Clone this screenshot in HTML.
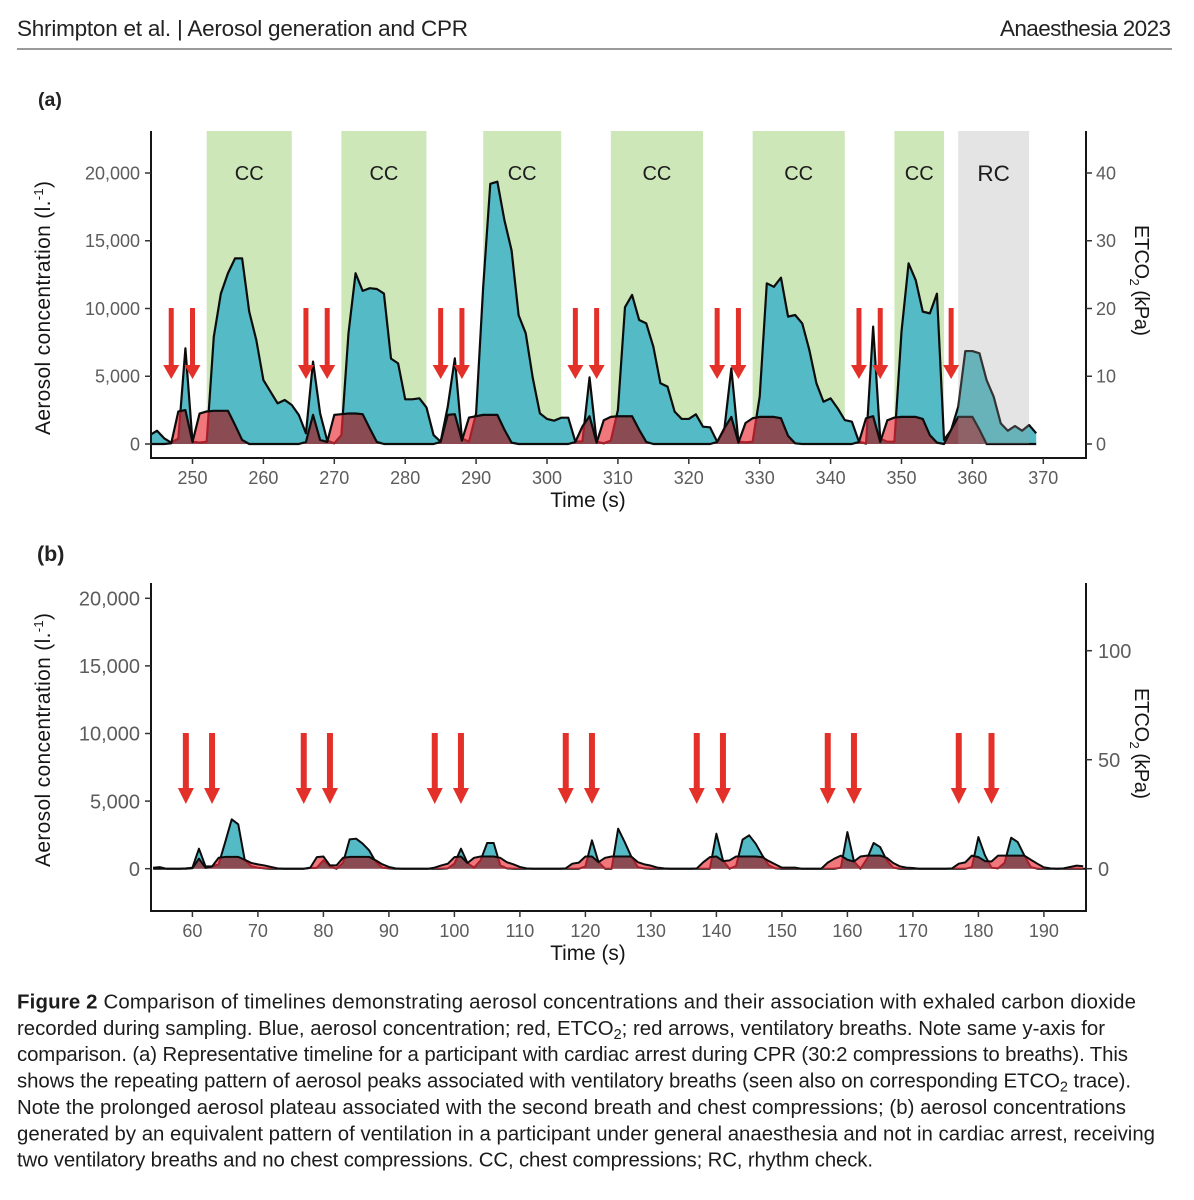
<!DOCTYPE html>
<html lang="en">
<head>
<meta charset="utf-8">
<title>Figure 2 - Aerosol generation and CPR</title>
<style>
html,body{margin:0;padding:0;background:#fff;width:1194px;height:1200px;overflow:hidden}
svg{display:block;font-family:"Liberation Sans",sans-serif}
.cap{font-size:20.4px;fill:#1c1c1c}
.tick{fill:#5c5c5c}
.ttl{fill:#151515}
</style>
</head>
<body>
<svg id="fig" xmlns="http://www.w3.org/2000/svg" width="1194" height="1200" viewBox="0 0 1194 1200">
  <rect width="1194" height="1200" fill="#fff"/>
  <text x="17" y="36" font-size="22.5" fill="#222" textLength="451" lengthAdjust="spacing">Shrimpton et al.  |  Aerosol generation and CPR</text>
  <text x="1000" y="36" font-size="22.5" fill="#222" textLength="171" lengthAdjust="spacing">Anaesthesia 2023</text>
  <rect x="17" y="48" width="1155" height="2" fill="#9a9a9a"/>
  <text x="38" y="106" font-size="19.5" font-weight="bold" fill="#222">(a)</text>
  <text x="37" y="561" font-size="21.5" font-weight="bold" fill="#222">(b)</text>

  <g id="panelA"></g>
  <g id="panelB"></g>

  <text class="ttl" x="588" y="507" font-size="20.8" text-anchor="middle">Time (s)</text>
  <text class="ttl" x="588" y="960" font-size="20.8" text-anchor="middle">Time (s)</text>
  <text class="ttl" transform="translate(50,435) rotate(-90)" font-size="21" textLength="254" lengthAdjust="spacing">Aerosol concentration (l.<tspan dy="-7" font-size="13">-1</tspan><tspan dy="7">)</tspan></text>
  <text class="ttl" transform="translate(50,867) rotate(-90)" font-size="21" textLength="254" lengthAdjust="spacing">Aerosol concentration (l.<tspan dy="-7" font-size="13">-1</tspan><tspan dy="7">)</tspan></text>
  <text class="ttl" transform="translate(1135,225) rotate(90)" font-size="20" textLength="111" lengthAdjust="spacing">ETCO<tspan dy="5" font-size="13">2</tspan><tspan dy="-5"> (kPa)</tspan></text>
  <text class="ttl" transform="translate(1135,688) rotate(90)" font-size="20" textLength="111" lengthAdjust="spacing">ETCO<tspan dy="5" font-size="13">2</tspan><tspan dy="-5"> (kPa)</tspan></text>

  <g>
    <text class="cap" x="17" y="1008.5" textLength="1119" lengthAdjust="spacing"><tspan font-weight="bold">Figure  2</tspan>  Comparison of timelines demonstrating aerosol concentrations and their association with exhaled carbon dioxide</text>
    <text class="cap" x="17" y="1035" textLength="1088" lengthAdjust="spacing">recorded during sampling. Blue, aerosol concentration; red, ETCO<tspan dy="4" font-size="14.5">2</tspan><tspan dy="-4">; red arrows, ventilatory breaths. Note same y-axis for</tspan></text>
    <text class="cap" x="17" y="1061" textLength="1111" lengthAdjust="spacing">comparison. (a) Representative timeline for a participant with cardiac arrest during CPR (30:2 compressions to breaths). This</text>
    <text class="cap" x="17" y="1087.5" textLength="1114" lengthAdjust="spacing">shows the repeating pattern of aerosol peaks associated with ventilatory breaths (seen also on corresponding ETCO<tspan dy="4" font-size="14.5">2</tspan><tspan dy="-4"> trace).</tspan></text>
    <text class="cap" x="17" y="1114" textLength="1109" lengthAdjust="spacing">Note the prolonged aerosol plateau associated with the second breath and chest compressions; (b) aerosol concentrations</text>
    <text class="cap" x="17" y="1140.5" textLength="1138" lengthAdjust="spacing">generated by an equivalent pattern of ventilation in a participant under general anaesthesia and not in cardiac arrest, receiving</text>
    <text class="cap" x="17" y="1166.5" textLength="856" lengthAdjust="spacing">two ventilatory breaths and no chest compressions. CC, chest compressions; RC, rhythm check.</text>
  </g>
</svg>

<script>
// ---------- Panel (a) data ----------
const firstSecondA = 244;
const aerosolA = [660,980,420,100,400,7060,170,100,170,7900,11100,12600,13700,13700,9770,7670,4720,3860,3000,3250,2880,2140,790,6080,2260,250,50,660,8170,12600,11300,11500,11440,11100,6300,5950,3300,3300,3370,2700,660,170,2750,6320,420,170,2260,11600,19200,19360,16500,14300,9500,8170,4850,2260,1850,1720,1940,1940,170,200,4920,170,50,250,2500,10100,11000,9150,8900,7180,4480,4230,2390,1850,1850,2190,1280,1230,170,1030,5580,170,120,170,3500,11860,11600,12280,9400,9520,8900,6940,4480,3120,3370,2630,1770,1650,170,30,8660,400,170,170,8290,13330,12100,9770,9640,11100,300,1030,2755,6860,6860,6690,4720,3490,1525,980,1330,980,1400,790];
const etco2A = [0,0,0,0.1,4.8,5,0.3,4.5,4.8,4.9,4.9,4.9,2.8,0.6,0,0,0,0,0,0,0,0,0.3,4.3,0.6,0.3,4.3,4.4,4.5,4.5,4.4,2.3,0.3,0,0,0,0,0,0,0,0,0.3,4.3,4.4,0.5,3.9,4.1,4.3,4.3,4.3,2.1,0.2,0,0,0,0,0,0,0,0,0.3,2.6,4.1,0.2,3.5,4,4.1,4.1,4.1,2.1,0.3,0,0,0,0,0,0,0,0,0,0.3,2.3,4,0.2,3.1,3.8,4,4,4,3.8,1.2,0.1,0,0,0,0,0,0,0,0,0.3,3.8,4.1,0.3,3.5,3.9,4,4,4,3.7,1.3,0.2,0,2.1,4,4,4,2.1,0,0,0,0,0,0,0,0];
const ccStartsA = [252,271,291,309,329,349];
const ccEndsA = [264,283,302,322,342,356];
const rcStartA = 358;
const rcEndA = 368;
const breathsA = [247,250,266,269,285,288,304,307,324,327,344,347,357];
const xTicksA = [250,260,270,280,290,300,310,320,330,340,350,360,370];
const rightTicksA = [0,10,20,30,40];

// ---------- Panel (b) data ----------
const firstSecondB = 54;
const aerosolB = [75,120,0,0,0,20,75,1480,170,170,320,1950,3650,3280,620,170,75,25,0,0,0,0,0,0,50,75,620,170,0,440,2170,2220,1850,1350,490,75,25,0,0,0,0,0,0,0,0,25,370,1480,420,75,620,1900,1900,250,25,0,0,0,0,0,0,0,0,0,0,0,170,2100,490,0,0,2960,1970,900,120,25,0,0,0,0,0,0,0,0,0,0,2590,620,0,200,2150,2470,1850,990,250,25,0,0,0,0,0,0,0,0,0,75,2710,540,0,740,1900,1600,620,75,0,0,0,0,0,0,0,0,0,0,0,120,2340,990,75,25,440,2290,1970,990,120,0,0,0,0,0,0,0,0,0];
const etco2B = [0,0,0,0,0,0,0.2,4.6,0.4,1,5,5.4,5.4,5.4,4.1,2.6,2,1.5,0.8,0.15,0,0,0,0,0.5,5.3,5.6,1.5,1.5,5,5.4,5.4,5.4,5.4,3.8,2,0.8,0.15,0,0,0,0,0,0.5,1.5,2.3,5.3,5.6,2.6,5,5.6,5.6,5.6,5,3,2,0.8,0.15,0,0,0,0,0,0.15,2.3,2.8,5.6,5.6,3,5,5.6,5.6,5.6,5.6,3,2,1.4,0.5,0.15,0,0,0,0,0.1,3,5.3,5.6,3.5,3.8,5.6,5.6,5.6,5.6,5.3,3.5,2,0.5,0.5,0.5,0,0,0,0,2.8,4.6,6,4.1,3.3,5.6,6,6,6,5,2.6,1.1,0.5,0.3,0,0,0,0,0,0.15,2.3,2.9,6,5.3,3.5,3.3,6,6,6,6,6,4.1,2.3,0.6,0.15,0,0.15,0.8,1.4,1.1];
const breathsB = [59,63,77,81,97,101,117,121,137,141,157,161,177,182];
const xTicksB = [60,70,80,90,100,110,120,130,140,150,160,170,180,190];
const rightTicksB = [0,50,100];

// ---------- Shared tick values ----------
const leftTicks = [0,5000,10000,15000,20000];
const leftTickLabels = ['0','5,000','10,000','15,000','20,000'];

const NS = 'http://www.w3.org/2000/svg';
function make(tag, attrs, parent){
  const n = document.createElementNS(NS, tag);
  for (const k in attrs) n.setAttribute(k, attrs[k]);
  parent.appendChild(n);
  return n;
}
function areaPath(values, start, X, Y){
  let d = 'M' + X(start) + ' ' + Y(0);
  values.forEach(function(v,i){ d += 'L' + X(start+i).toFixed(2) + ' ' + Y(v).toFixed(2); });
  return d + 'L' + X(start+values.length-1) + ' ' + Y(0) + 'Z';
}
function linePath(values, start, X, Y){
  let d = '';
  values.forEach(function(v,i){ d += (i?'L':'M') + X(start+i).toFixed(2) + ' ' + Y(v).toFixed(2); });
  return d;
}
function drawPanel(o){
  const g = document.getElementById(o.id);
  const X = o.X, YL = o.YL, YR = o.YR;
  const defs = make('defs', {}, g);
  const clipPlot = make('clipPath', {id:o.id+'-plot'}, defs);
  make('rect', {x:o.left, y:o.top, width:o.right-o.left, height:o.bottom-o.top}, clipPlot);
  const blueD = areaPath(o.aerosol, o.start, X, YL);
  const redD = areaPath(o.etco2, o.start, X, YR);
  const clipBlue = make('clipPath', {id:o.id+'-blue'}, defs);
  make('path', {d:blueD}, clipBlue);
  const clipRed = make('clipPath', {id:o.id+'-red'}, defs);
  make('path', {d:redD}, clipRed);

  // chest compression bands
  o.ccStarts.forEach(function(s,i){
    const r = make('rect', {x:X(s), y:o.top, width:X(o.ccEnds[i])-X(s), height:YL(0)-o.top, fill:'#cde7b9'}, g);
    
    
  });

  const plot = make('g', {'clip-path':'url(#'+o.id+'-plot)'}, g);
  
  

  const blue = make('path', {d:blueD, fill:'#54bac5', stroke:'none'}, plot);
  
  
  const blueLine = make('path', {d:linePath(o.aerosol,o.start,X,YL), fill:'none', stroke:'#0c0c0c', 'stroke-width':o.sw, 'stroke-linejoin':'round'}, plot);
  
  

  const red = make('path', {d:redD, fill:'#f0777b', stroke:'none'}, plot);
  
  
  const overlapWrap = make('g', {'clip-path':'url(#'+o.id+'-blue)'}, plot);
  
  
  const overlap = make('path', {d:redD, fill:'#8a4b53', stroke:'none'}, overlapWrap);
  
  
  const underWrap = make('g', {'clip-path':'url(#'+o.id+'-red)'}, plot);
  
  
  const under = make('path', {d:linePath(o.aerosol,o.start,X,YL), fill:'none', stroke:'#a81f2c', 'stroke-width':o.sw, 'stroke-linejoin':'round'}, underWrap);
  
  
  const redLine = make('path', {d:linePath(o.etco2,o.start,X,YR), fill:'none', stroke:'#0c0c0c', 'stroke-width':o.sw, 'stroke-linejoin':'round'}, plot);
  
  

  // rhythm check band overlays the traces
  if (o.rcStart !== undefined){
    const rc = make('rect', {x:X(o.rcStart), y:o.top, width:X(o.rcEnd)-X(o.rcStart), height:YL(0)-o.top, fill:'rgb(158,158,158)', 'fill-opacity':0.28}, g);
    
    
    const rcText = make('text', {x:(X(o.rcStart)+X(o.rcEnd))/2, y:181, 'font-size':22.5, 'text-anchor':'middle', fill:'#1c1c1c'}, g);
    rcText.textContent = 'RC';
    
    
  }
  o.ccStarts.forEach(function(s,i){
    const t = make('text', {x:(X(s)+X(o.ccEnds[i]))/2, y:180, 'font-size':20, 'text-anchor':'middle', fill:'#1c1c1c'}, g);
    t.textContent = 'CC';
    
    
  });

  // breath arrows
  o.breaths.forEach(function(b){
    const x = X(b);
    const w = o.shaft/2;
    const pts = [[x-w,o.arrowTop],[x+w,o.arrowTop],[x+w,o.arrowNeck],[x+8,o.arrowNeck],[x,o.arrowTip],[x-8,o.arrowNeck],[x-w,o.arrowNeck]];
    const a = make('polygon', {points:pts.map(function(p){return p.join(',');}).join(' '), fill:'#e3312a'}, g);
    
    
  });

  // axes
  const axisColor = '#161616';
  const bottomAxis = make('line', {x1:o.left-1, x2:o.right+1, y1:o.bottom, y2:o.bottom, stroke:axisColor, 'stroke-width':2}, g);
  
  
  const leftAxis = make('line', {x1:o.left, x2:o.left, y1:o.top, y2:o.bottom, stroke:axisColor, 'stroke-width':2}, g);
  
  
  const rightAxis = make('line', {x1:o.right, x2:o.right, y1:o.top, y2:o.bottom, stroke:axisColor, 'stroke-width':2}, g);
  
  

  o.xTicks.forEach(function(t){
    const m = make('line', {x1:X(t), x2:X(t), y1:o.bottom, y2:o.bottom+6, stroke:'#333', 'stroke-width':1.5}, g);
    
    
    const l = make('text', {x:X(t), y:o.bottom+26, 'font-size':18, 'text-anchor':'middle', class:'tick'}, g);
    l.textContent = String(t);
    
    
  });
  leftTicks.forEach(function(t,i){
    const m = make('line', {x1:o.left-6, x2:o.left, y1:YL(t), y2:YL(t), stroke:'#333', 'stroke-width':1.5}, g);
    
    
    const l = make('text', {x:140, y:YL(t)+o.fs*0.36, 'font-size':o.fs, 'text-anchor':'end', class:'tick'}, g);
    l.textContent = leftTickLabels[i];
    
    
  });
  o.rightTicks.forEach(function(t){
    const m = make('line', {x1:o.right, x2:o.right+6, y1:YR(t), y2:YR(t), stroke:'#333', 'stroke-width':1.5}, g);
    
    
    const l = make('text', {x:o.rightLabelX, y:YR(t)+o.fs*0.36, 'font-size':o.fs, class:'tick'}, g);
    l.textContent = String(t);
    
    
  });
}

drawPanel({
  id:'panelA', left:151, right:1086, top:131, bottom:458, sw:2.2, fs:18, rightLabelX:1096,
  X:function(t){return 192.5+(t-250)*7.09;},
  YL:function(v){return 444-v*0.01355;},
  YR:function(v){return 444-v*6.775;},
  start:firstSecondA, aerosol:aerosolA, etco2:etco2A,
  ccStarts:ccStartsA, ccEnds:ccEndsA, rcStart:rcStartA, rcEnd:rcEndA,
  breaths:breathsA, shaft:5, arrowTop:308, arrowNeck:365, arrowTip:379,
  xTicks:xTicksA, rightTicks:rightTicksA
});
drawPanel({
  id:'panelB', left:151, right:1086, top:583, bottom:911, sw:2, fs:20, rightLabelX:1098,
  X:function(t){return 192.4+(t-60)*6.55;},
  YL:function(v){return 868.7-v*0.01352;},
  YR:function(v){return 868.7-v*2.18;},
  start:firstSecondB, aerosol:aerosolB, etco2:etco2B,
  ccStarts:[], ccEnds:[],
  breaths:breathsB, shaft:6, arrowTop:733, arrowNeck:788, arrowTip:804,
  xTicks:xTicksB, rightTicks:rightTicksB
});
</script>
</body>
</html>
